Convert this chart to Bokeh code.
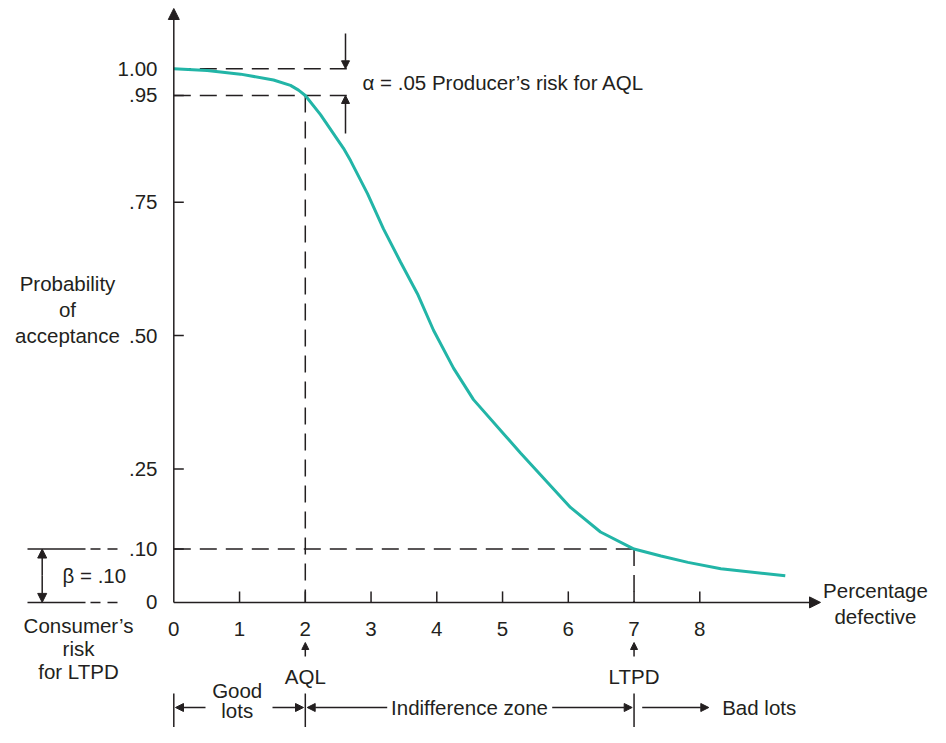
from bokeh.plotting import figure
from bokeh.models import Arrow, NormalHead, Range1d
from bokeh.core.properties import value
from bokeh.embed import file_html
from bokeh.resources import INLINE

# ---------------- data ----------------
pct_defective = [0, 0.508, 1.014, 1.516, 1.775, 1.897, 2.0, 2.231, 2.581, 2.688, 2.946,
                 3.189, 3.448, 3.707, 3.950, 4.254, 4.558, 5.045, 5.273, 5.653, 6.033,
                 6.490, 7.0, 7.41, 7.82, 8.32, 9.30]
prob_accept = [1.000, 0.997, 0.990, 0.979, 0.969, 0.960, 0.95, 0.914, 0.851, 0.828, 0.766,
               0.700, 0.638, 0.578, 0.510, 0.439, 0.380, 0.312, 0.280, 0.229, 0.178,
               0.132, 0.10, 0.087, 0.075, 0.063, 0.050]

x_tick_values = [0, 1, 2, 3, 4, 5, 6, 7, 8]
x_tick_labels = ["0", "1", "2", "3", "4", "5", "6", "7", "8"]
y_tick_values = [0, 0.10, 0.25, 0.50, 0.75, 0.95, 1.00]
y_tick_labels = ["0", ".10", ".25", ".50", ".75", ".95", "1.00"]

aql = 2
ltpd = 7
alpha = 0.05
beta = 0.10

# ---------------- styling ----------------
INK = "#231f20"
CURVE = "#22b5a7"
FONT = "Liberation Sans"
FS = "20.5px"

W, H = 930, 727
X0PX, XPX = 173.3, 65.75      # canvas px of x=0, px per unit
Y0PX, YPX = 601.9, 533.6      # canvas px of y=0, px per unit


def cx(px):  # canvas px -> data x
    return (px - X0PX) / XPX


def cy(py):  # canvas py -> data y
    return (Y0PX - py) / YPX


p = figure(width=W, height=H, x_range=Range1d(cx(0), cx(W)), y_range=Range1d(cy(H), cy(0)),
           output_backend="svg", toolbar_location=None, x_axis_type=None, y_axis_type=None,
           min_border=0, outline_line_color=None)
p.grid.visible = False
p.background_fill_color = "white"
p.border_fill_color = "white"


def arrow(x0, y0, x1, y1, size=9, lw=1.5):
    head = NormalHead(size=size, fill_color=INK, line_color=INK, line_width=1)
    p.add_layout(Arrow(end=head, x_start=x0, y_start=y0, x_end=x1, y_end=y1,
                       line_color=INK, line_width=lw))


def label(x, y, s, align="left", baseline="middle", lh=1.2, fs=FS):
    p.text(x=[x], y=[y], text=[s], text_font=value(FONT), text_font_size=fs,
           text_align=align, text_baseline=baseline, text_color=INK, text_line_height=lh)


# axes with arrows
arrow(0, 0, 0, cy(8), size=11)
arrow(0, 0, cx(820), 0, size=11)

# ticks (inside)
tick_x = [v for v in x_tick_values if v != 0]
p.segment(x0=tick_x, y0=[0] * len(tick_x), x1=tick_x, y1=[11 / YPX] * len(tick_x),
          line_color=INK, line_width=1.5)
tick_y = [v for v in y_tick_values if v != 0]
p.segment(x0=[0] * len(tick_y), y0=tick_y, x1=[10 / XPX] * len(tick_y), y1=tick_y,
          line_color=INK, line_width=1.5)

# tick labels
p.text(x=x_tick_values, y=[cy(628.5)] * len(x_tick_values), text=x_tick_labels,
       text_font=value(FONT), text_font_size=FS, text_align="center",
       text_baseline="middle", text_color=INK)
p.text(x=[cx(157)] * len(y_tick_values), y=y_tick_values, text=y_tick_labels,
       text_font=value(FONT), text_font_size=FS, text_align="right",
       text_baseline="middle", text_color=INK)

# dashed reference lines
DASH = "17 9"
xr = cx(355)
p.line(x=[0, xr], y=[1.0, 1.0], line_color=INK, line_width=1.5, line_dash=DASH)
p.line(x=[0, xr], y=[1 - alpha, 1 - alpha], line_color=INK, line_width=1.5, line_dash=DASH)
p.line(x=[aql, aql], y=[1 - alpha, 0], line_color=INK, line_width=1.5, line_dash=DASH)
p.line(x=[0, ltpd], y=[beta, beta], line_color=INK, line_width=1.5, line_dash=DASH)
p.line(x=[ltpd, ltpd], y=[beta, 0], line_color=INK, line_width=1.5, line_dash=DASH)

# left extension lines for beta
for yv in [beta, 0]:
    p.line(x=[cx(27), cx(85)], y=[yv, yv], line_color=INK, line_width=1.5)
    p.line(x=[cx(90), cx(118)], y=[yv, yv], line_color=INK, line_width=1.5, line_dash="10 7")
xb = cx(41.7)
arrow(xb, beta / 2, xb, beta, size=9)
arrow(xb, beta / 2, xb, 0, size=9)
label(cx(62), beta / 2, "\u03b2 = .10")

# alpha arrows
xa = cx(345)
arrow(xa, cy(33), xa, 1.0, size=8)
arrow(xa, cy(133), xa, 1 - alpha, size=8)
label(cx(362), 1 - alpha / 2, "\u03b1 = .05 Producer\u2019s risk for AQL")

# OC curve
p.line(x=pct_defective, y=prob_accept, line_color=CURVE, line_width=3)

# axis titles
label(cx(67), cy(309), "Probability\nof\nacceptance", align="center", lh=1.12)
label(cx(875), cy(603), "Percentage\ndefective", align="center", lh=1.12)
label(cx(78), cy(648), "Consumer\u2019s\nrisk\nfor LTPD", align="center", lh=0.98)

# AQL / LTPD markers
for xv, s in [(aql, "AQL"), (ltpd, "LTPD")]:
    arrow(xv, cy(656), xv, cy(642), size=7)
    label(xv, cy(676), s, align="center")

# zone bars
zb = [0, aql, ltpd]
p.segment(x0=zb, y0=[cy(693)] * 3, x1=zb, y1=[cy(H)] * 3, line_color=INK, line_width=1.5)

yz = cy(707)
arrow(cx(205), yz, cx(175), yz, size=8)
arrow(cx(272), yz, cx(303), yz, size=8)
label(cx(236.7), cy(700), "Good\nlots", align="center", lh=0.9)
arrow(cx(386.7), yz, cx(306.7), yz, size=8)
arrow(cx(551.7), yz, cx(631.7), yz, size=8)
label(cx(469), yz, "Indifference zone", align="center")
arrow(cx(641.7), yz, cx(708.3), yz, size=8)
label(cx(721.7), yz, "Bad lots")

open("out.html", "w").write(file_html(p, INLINE))
